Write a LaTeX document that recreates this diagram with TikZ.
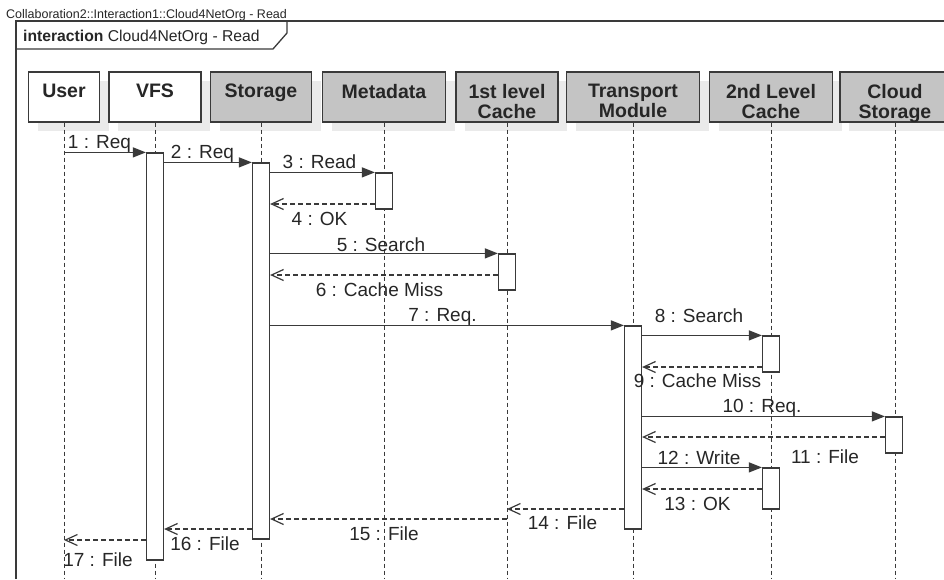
\documentclass[tikz,border=0pt]{standalone}
\usepackage{fontspec}
\setmainfont{Liberation Sans}
\usetikzlibrary{arrows.meta,shadows}
\definecolor{linegray}{RGB}{58,58,58}
\definecolor{boxgray}{RGB}{196,196,196}
\definecolor{shadowgray}{RGB}{234,234,234}
\begin{document}
\begin{tikzpicture}[x=1pt,y=-1pt]
		\tikzstyle{head}=[draw=linegray,line width=1.2pt,fill=boxgray,minimum height=50pt,inner sep=0pt,drop shadow={shadow xshift=9pt,shadow yshift=-9pt,fill=shadowgray,opacity=1}]
		\tikzstyle{headtext}=[anchor=north,yshift=-12.5pt,inner sep=0pt,align=center,text=black!85,font=\fontsize{19.5}{20}\selectfont\bfseries]
		\tikzstyle{lifeline}=[draw=linegray,line width=1pt,dash pattern=on 4pt off 3pt]
		\tikzstyle{act}=[draw=linegray,line width=1.2pt,fill=white,minimum width=17pt,inner sep=0pt]
		\tikzstyle{call}=[draw=linegray,line width=1.2pt,-{Triangle[length=13pt,width=10pt]}]
		\tikzstyle{ret}=[draw=linegray,line width=1.2pt,dash pattern=on 5pt off 3pt,-{Straight Barb[length=12pt,width=11pt,line width=1.2pt]}]
		\tikzstyle{msg}=[anchor=base,inner sep=0pt,text=black!85,font=\fontsize{19}{22}\selectfont]
		
		\useasboundingbox (0,0) rectangle (944,579);
		\clip (0,0) rectangle (944,579);
		\coordinate (bottom) at (0,579);
		
		% frame
		\node (title) at (6,18) [anchor=base west,inner sep=0pt,text=black!85,font=\fontsize{12.5}{14}\selectfont] {Collaboration2::Interaction1::Cloud4NetOrg - Read};
		\draw[linegray,line width=1.3pt] (16,579) -- (16,21) -- (944,21);
		\draw[linegray,line width=1.3pt] (16,49) -- (273,49) -- (287,33) -- (287,21);
		\node (frame) at (23,41.5) [anchor=base west,inner sep=0pt,text=black!85,font=\fontsize{15.7}{18}\selectfont] {\textbf{interaction} Cloud4NetOrg - Read};
		
		% lifeline heads
		\node (user) at (64,97) [head,fill=white,minimum width=71pt,label={[headtext]north:User}] {};
		\node (vfs) at (155,97) [head,fill=white,minimum width=92pt,label={[headtext]north:VFS}] {};
		\node (sto) at (261,97) [head,minimum width=101pt,label={[headtext]north:Storage}] {};
		\node (meta) at (384,97) [head,minimum width=123pt,label={[headtext]north:Metadata}] {};
		\node (l1) at (507,97) [head,minimum width=102pt,label={[headtext]north:1st level\\Cache}] {};
		\node (tm) at (633,97) [head,minimum width=133pt,label={[headtext]north:Transport\\Module}] {};
		\node (l2) at (771,97) [head,minimum width=123pt,label={[headtext]north:2nd Level\\Cache}] {};
		\node (cloud) at (895,97) [head,minimum width=110pt,label={[headtext]north:Cloud\\Storage}] {};
		
		\foreach \n in {user,vfs,sto,meta,l1,tm,l2,cloud}
			\draw[lifeline] (\n.south) -- (\n.south |- bottom);
		
		% activations
		\node (vfsA) at (155,356.5) [act,minimum height=407pt] {};
		\node (stoA) at (261,351) [act,minimum height=376pt] {};
		\node (metaA) at (384,191) [act,minimum height=36pt] {};
		\node (l1A) at (507,272) [act,minimum height=36pt] {};
		\node (tmA) at (633,427.5) [act,minimum height=203pt] {};
		\node (l2A) at (771,354) [act,minimum height=36pt] {};
		\node (clA) at (894,435) [act,minimum height=36pt] {};
		\node (l2B) at (771,488.5) [act,minimum height=41pt] {};
		
		% messages
		\draw[call] (user.south |- vfsA.north) -- (vfsA.north west) node[msg] at (99.5,148) {1 : Req};
		\draw[call] (vfsA.east |- stoA.north) -- (stoA.north west) node[msg] at (202.5,158) {2 : Req};
		\draw[call] (stoA.east |- metaA.north) -- (metaA.north west) node[msg] at (319.5,168) {3 : Read};
		\draw[ret] (metaA.west |- 0,204) -- (stoA.east |- 0,204) node[msg] at (319.5,225) {4 : OK};
		\draw[call] (stoA.east |- l1A.north) -- (l1A.north west) node[msg] at (381,251) {5 : Search};
		\draw[ret] (l1A.west |- 0,275) -- (stoA.east |- 0,275) node[msg] at (379.5,296) {6 : Cache Miss};
		\draw[call] (stoA.east |- tmA.north) -- (tmA.north west) node[msg] at (442.5,321) {7 : Req.};
		\draw[call] (tmA.east |- l2A.north) -- (l2A.north west) node[msg] at (699,322) {8 : Search};
		\draw[ret] (l2A.west |- 0,367) -- (tmA.east |- 0,367) node[msg] at (697.5,387) {9 : Cache Miss};
		\draw[call] (tmA.east |- clA.north) -- (clA.north west) node[msg] at (762,412) {10 : Req.};
		\draw[ret] (clA.west |- 0,437) -- (tmA.east |- 0,437) node[msg] at (825,463) {11 : File};
		\draw[call] (tmA.east |- l2B.north) -- (l2B.north west) node[msg] at (699,464) {12 : Write};
		\draw[ret] (l2B.west |- 0,489) -- (tmA.east |- 0,489) node[msg] at (697.5,510) {13 : OK};
		\draw[ret] (tmA.west |- 0,509) -- (l1.south |- 0,509) node[msg] at (562.5,529) {14 : File};
		\draw[ret] (l1.south |- 0,519) -- (stoA.east |- 0,519) node[msg] at (384,540) {15 : File};
		\draw[ret] (stoA.west |- 0,529) -- (vfsA.east |- 0,529) node[msg] at (205,550) {16 : File};
		\draw[ret] (vfsA.west |- 0,540) -- (user.south |- 0,540) node[msg] at (98,566.5) {17 : File};
		
\end{tikzpicture}
\end{document}
